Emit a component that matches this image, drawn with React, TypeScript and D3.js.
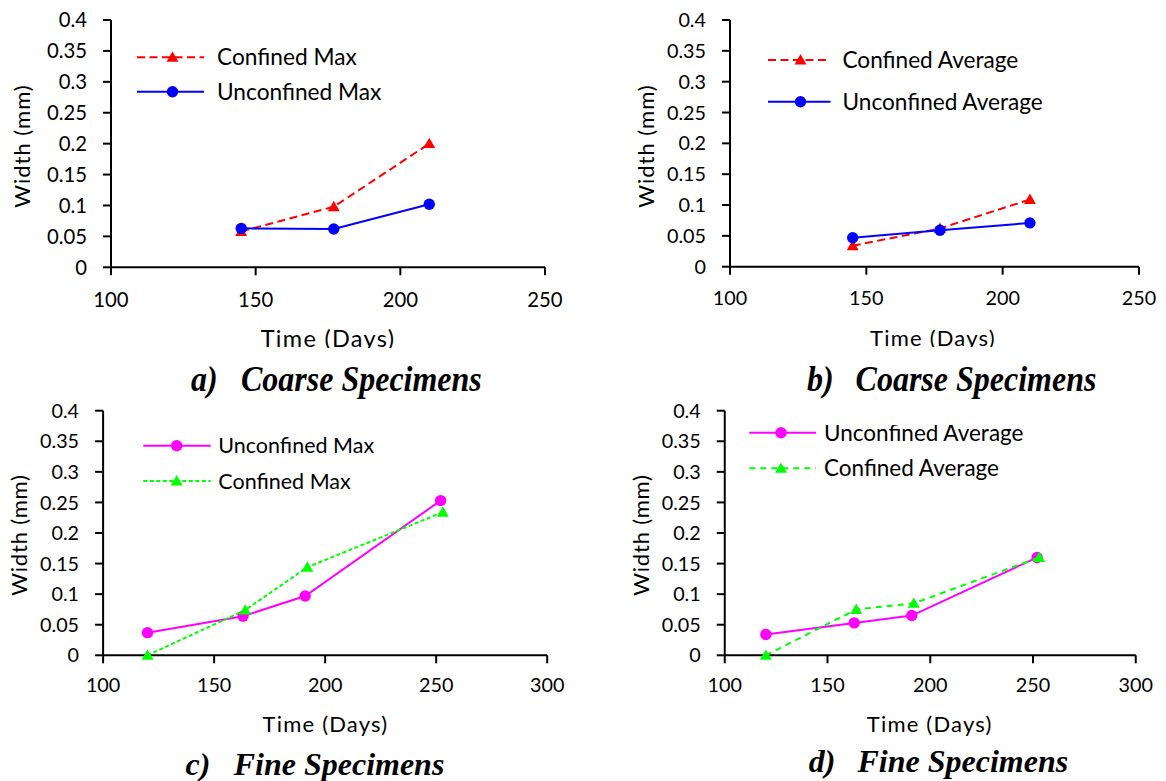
import React from "react";
import * as d3 from "d3";

// ---------- Data ----------
const yTickValues = [0, 0.05, 0.1, 0.15, 0.2, 0.25, 0.3, 0.35, 0.4];
const yTickLabels = ["0", "0.05", "0.1", "0.15", "0.2", "0.25", "0.3", "0.35", "0.4"];
const xTicksCoarse = [100, 150, 200, 250];
const xTicksFine = [100, 150, 200, 250, 300];

// a) Coarse – Max
const daysA = [145, 177, 210];
const confinedMaxA = [0.058, 0.098, 0.2];
const unconfinedMaxA = [0.063, 0.062, 0.102];

// b) Coarse – Average
const daysB = [145, 177, 210];
const confinedAvgB = [0.034, 0.062, 0.109];
const unconfinedAvgB = [0.047, 0.059, 0.071];

// c) Fine – Max
const daysCUnconf = [120, 163, 191, 252];
const unconfinedMaxC = [0.037, 0.064, 0.097, 0.253];
const daysCConf = [120, 164, 192, 253];
const confinedMaxC = [0, 0.074, 0.144, 0.234];

// d) Fine – Average
const daysDUnconf = [120, 163, 191, 252];
const unconfinedAvgD = [0.034, 0.053, 0.065, 0.16];
const daysDConf = [120, 164, 192, 253];
const confinedAvgD = [0, 0.075, 0.085, 0.16];

type Series = {
  name: string;
  days: number[];
  values: number[];
  color: string;
  dash: string | null;
  marker: "circle" | "triangle";
};

type Panel = {
  id: string;
  xRange: [number, number];
  yRange: [number, number];
  xDomain: [number, number];
  xTicks: number[];
  tickFont: number;
  xLabelOffset: number;
  legendFont: number;
  titleFont: number;
  titleSpacing: number;
  yTitleFont: number;
  yTitleSpacing: number;
  series: Series[];
  legendX0: number;
  legendX1: number;
  legendMarkerX: number;
  legendTextX: number;
  legendYs: number[];
  legendClipTop?: number;
  yTitleX: number;
  yTitleY: number;
  xTitleX: number;
  xTitleBase: number;
  xTitleClip?: number;
  capLabel: string;
  capText: string;
  capLabelX: number;
  capTextX: number;
  capY: number;
  capStretch: number;
};

const RED = "#ff0000";
const BLUE = "#0000ff";
const MAGENTA = "#ff00ff";
const GREEN = "#00ff00";

const panels: Panel[] = [
  {
    id: "a",
    xRange: [111, 545],
    yRange: [267.3, 20],
    xDomain: [100, 250],
    xTicks: xTicksCoarse,
    tickFont: 20.3,
    xLabelOffset: 39.4,
    legendFont: 22.7,
    titleFont: 23.5,
    titleSpacing: 1.3,
    yTitleFont: 22,
    yTitleSpacing: 1,
    series: [
      { name: "Confined Max", days: daysA, values: confinedMaxA, color: RED, dash: "8,4.5", marker: "triangle" },
      { name: "Unconfined Max", days: daysA, values: unconfinedMaxA, color: BLUE, dash: null, marker: "circle" },
    ],
    legendX0: 137,
    legendX1: 204,
    legendMarkerX: 172.5,
    legendTextX: 217,
    legendYs: [57.3, 91.7],
    yTitleX: 21.5,
    yTitleY: 146,
    xTitleX: 328,
    xTitleBase: 347,
    xTitleClip: 348,
    capLabel: "a)",
    capText: "Coarse Specimens",
    capLabelX: 191,
    capTextX: 241,
    capY: 390.5,
    capStretch: 1.1,
  },
  {
    id: "b",
    xRange: [730, 1139],
    yRange: [266.7, 20],
    xDomain: [100, 250],
    xTicks: xTicksCoarse,
    tickFont: 19.8,
    xLabelOffset: 38.3,
    legendFont: 22.6,
    titleFont: 22,
    titleSpacing: 1.2,
    yTitleFont: 22,
    yTitleSpacing: 1,
    series: [
      { name: "Confined Average", days: daysB, values: confinedAvgB, color: RED, dash: "8,4.5", marker: "triangle" },
      { name: "Unconfined Average", days: daysB, values: unconfinedAvgB, color: BLUE, dash: null, marker: "circle" },
    ],
    legendX0: 768,
    legendX1: 830.5,
    legendMarkerX: 800.5,
    legendTextX: 842.5,
    legendYs: [60, 101.7],
    yTitleX: 645.6,
    yTitleY: 146,
    xTitleX: 933,
    xTitleBase: 346,
    xTitleClip: 347,
    capLabel: "b)",
    capText: "Coarse Specimens",
    capLabelX: 807,
    capTextX: 855.6,
    capY: 390.5,
    capStretch: 1.1,
  },
  {
    id: "c",
    xRange: [103.1, 547.2],
    yRange: [655.3, 410.7],
    xDomain: [100, 300],
    xTicks: xTicksFine,
    tickFont: 19.8,
    xLabelOffset: 36.4,
    legendFont: 21.5,
    titleFont: 22,
    titleSpacing: 1.2,
    yTitleFont: 22,
    yTitleSpacing: 0.8,
    series: [
      { name: "Unconfined Max", days: daysCUnconf, values: unconfinedMaxC, color: MAGENTA, dash: null, marker: "circle" },
      { name: "Confined Max", days: daysCConf, values: confinedMaxC, color: GREEN, dash: "4,2.5", marker: "triangle" },
    ],
    legendX0: 143.3,
    legendX1: 210.7,
    legendMarkerX: 176.7,
    legendTextX: 218.3,
    legendYs: [445.7, 481],
    yTitleX: 18.5,
    yTitleY: 535,
    xTitleX: 325.5,
    xTitleBase: 731.7,
    capLabel: "c)",
    capText: "Fine Specimens",
    capLabelX: 185.5,
    capTextX: 233.7,
    capY: 774.5,
    capStretch: 1.0,
  },
  {
    id: "d",
    xRange: [724.75, 1135.75],
    yRange: [655.3, 410.7],
    xDomain: [100, 300],
    xTicks: xTicksFine,
    tickFont: 19.8,
    xLabelOffset: 36.4,
    legendFont: 22.5,
    titleFont: 22,
    titleSpacing: 1.2,
    yTitleFont: 22,
    yTitleSpacing: 0.8,
    series: [
      { name: "Unconfined Average", days: daysDUnconf, values: unconfinedAvgD, color: MAGENTA, dash: null, marker: "circle" },
      { name: "Confined Average", days: daysDConf, values: confinedAvgD, color: GREEN, dash: "6,5", marker: "triangle" },
    ],
    legendX0: 749.3,
    legendX1: 816,
    legendMarkerX: 781,
    legendTextX: 824,
    legendYs: [432.7, 468.3],
    legendClipTop: 425,
    yTitleX: 640,
    yTitleY: 535,
    xTitleX: 929.7,
    xTitleBase: 731.7,
    capLabel: "d)",
    capText: "Fine Specimens",
    capLabelX: 808.75,
    capTextX: 857.5,
    capY: 772,
    capStretch: 1.0,
  },
];

const FONT = "Lato, 'Open Sans', sans-serif";
const CAP_FONT = "'Liberation Serif', 'Times New Roman', serif";
const CAP_SIZE = 32;

const triPath = d3.symbol().type(d3.symbolTriangle).size(62)() as string;

function Marker({ x, y, s }: { x: number; y: number; s: Series }) {
  if (s.marker === "circle") return <circle cx={x} cy={y} r={5.7} fill={s.color} />;
  return <path d={triPath} transform={`translate(${x},${y + 1})`} fill={s.color} />;
}

function PanelChart({ p }: { p: Panel }) {
  const x = d3.scaleLinear().domain(p.xDomain).range(p.xRange);
  const y = d3.scaleLinear().domain([0, 0.4]).range(p.yRange);
  const line = d3
    .line<[number, number]>()
    .x((d) => x(d[0]))
    .y((d) => y(d[1]));
  const [x0, x1] = p.xRange;
  const [yb, yt] = p.yRange;
  const digitHalf = p.tickFont * 0.36;
  return (
    <g>
      <defs>
        {p.xTitleClip !== undefined && (
          <clipPath id={`xt-${p.id}`}>
            <rect x={p.xTitleX - 120} y={p.xTitleBase - 50} width={240} height={p.xTitleClip - (p.xTitleBase - 50)} />
          </clipPath>
        )}
        {p.legendClipTop !== undefined && (
          <clipPath id={`lg-${p.id}`}>
            <rect x={p.legendX0 - 10} y={p.legendClipTop} width={400} height={100} />
          </clipPath>
        )}
      </defs>
      {/* axes */}
      <line x1={x0} x2={x1} y1={yb} y2={yb} stroke="#000" strokeWidth={2} />
      <line x1={x0} x2={x0} y1={yb} y2={yt} stroke="#000" strokeWidth={2} />
      {yTickValues.map((v, i) => (
        <g key={`yt${i}`}>
          <line x1={x0 - 8} x2={x0} y1={y(v)} y2={y(v)} stroke="#000" strokeWidth={2} />
          <text
            x={x0 - 24}
            y={y(v) + digitHalf}
            textAnchor="end"
            fontFamily={FONT}
            fontSize={p.tickFont}
            fill="#000"
          >
            {yTickLabels[i]}
          </text>
        </g>
      ))}
      {p.xTicks.map((v) => (
        <g key={`xt${v}`}>
          <line x1={x(v)} x2={x(v)} y1={yb} y2={yb + 8} stroke="#000" strokeWidth={2} />
          <text
            x={x(v)}
            y={yb + p.xLabelOffset}
            textAnchor="middle"
            fontFamily={FONT}
            fontSize={p.tickFont}
            fill="#000"
          >
            {v}
          </text>
        </g>
      ))}
      {/* axis titles */}
      <text
        transform={`translate(${p.yTitleX},${p.yTitleY}) rotate(-90)`}
        textAnchor="middle"
        dominantBaseline="central"
        fontFamily={FONT}
        fontSize={p.yTitleFont}
        letterSpacing={p.yTitleSpacing}
        fill="#000"
      >
        Width (mm)
      </text>
      <text
        x={p.xTitleX}
        y={p.xTitleBase}
        textAnchor="middle"
        fontFamily={FONT}
        fontSize={p.titleFont}
        letterSpacing={p.titleSpacing}
        fill="#000"
        clipPath={p.xTitleClip !== undefined ? `url(#xt-${p.id})` : undefined}
      >
        Time (Days)
      </text>
      {/* series */}
      {p.series.map((s, si) => {
        const pts = s.days.map((d, i) => [d, s.values[i]] as [number, number]);
        return (
          <g key={`s${si}`}>
            <path
              d={line(pts) as string}
              fill="none"
              stroke={s.color}
              strokeWidth={2}
              strokeDasharray={s.dash ?? undefined}
            />
            {pts.map((pt, i) => (
              <Marker key={i} x={x(pt[0])} y={y(pt[1])} s={s} />
            ))}
          </g>
        );
      })}
      {/* legend */}
      {p.series.map((s, si) => {
        const ly = p.legendYs[si];
        return (
          <g key={`lg${si}`}>
            <line
              x1={p.legendX0}
              x2={p.legendX1}
              y1={ly}
              y2={ly}
              stroke={s.color}
              strokeWidth={2}
              strokeDasharray={s.dash ?? undefined}
            />
            <Marker x={p.legendMarkerX} y={ly} s={s} />
            <text
              x={p.legendTextX}
              y={ly + p.legendFont * 0.36}
              fontFamily={FONT}
              fontSize={p.legendFont}
              fill="#000"
              clipPath={p.legendClipTop !== undefined && si === 0 ? `url(#lg-${p.id})` : undefined}
            >
              {s.name}
            </text>
          </g>
        );
      })}
      {/* caption */}
      <g transform={`translate(0,${p.capY}) scale(1,${p.capStretch})`}>
        <text
          x={p.capLabelX}
          y={0}
          fontFamily={CAP_FONT}
          fontStyle="italic"
          fontWeight="bold"
          fontSize={CAP_SIZE}
          fill="#000"
        >
          {p.capLabel}
        </text>
        <text
          x={p.capTextX}
          y={0}
          fontFamily={CAP_FONT}
          fontStyle="italic"
          fontWeight="bold"
          fontSize={CAP_SIZE}
          fill="#000"
        >
          {p.capText}
        </text>
      </g>
    </g>
  );
}

export default function App() {
  return (
    <svg
      width={1166}
      height={781}
      style={{ position: "absolute", left: 0, top: 0, background: "#fff" }}
    >
      <rect x={0} y={0} width={1166} height={781} fill="#fff" />
      {panels.map((p) => (
        <PanelChart key={p.id} p={p} />
      ))}
    </svg>
  );
}
